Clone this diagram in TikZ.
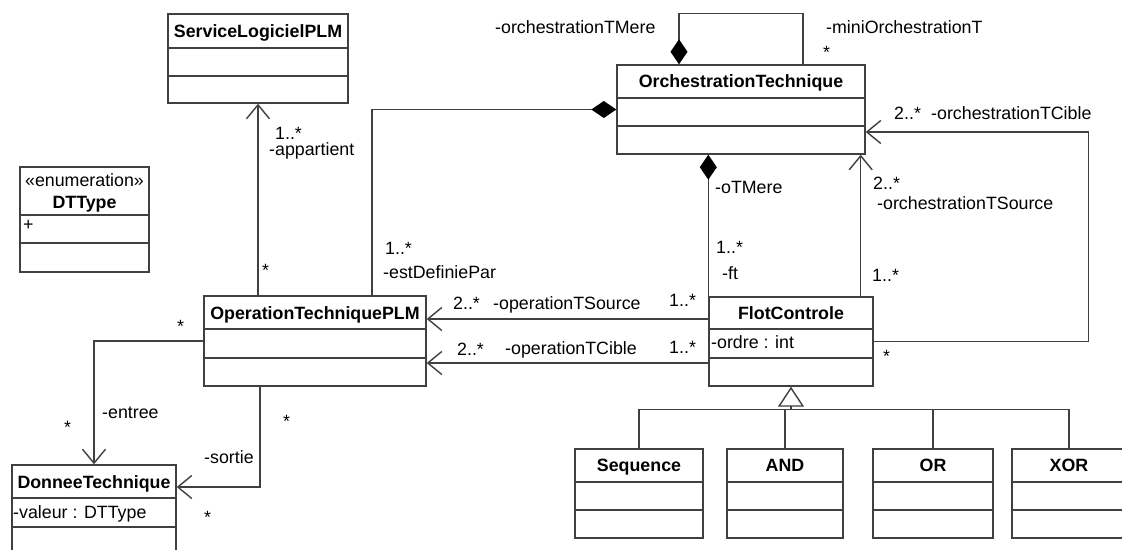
\documentclass[tikz,border=0pt]{standalone}
\usepackage{fontspec}
\setmainfont{Liberation Sans}
\usetikzlibrary{arrows.meta,fit}
\newcommand\umlcls[7]{%
  \node[box, fit={(#2,#3) (#4,#5)}] (#1) {};
  \draw[ln] (#2,#6) -- (#4,#6);
  \draw[ln] (#2,#7) -- (#4,#7);
}
\begin{document}
\begin{tikzpicture}[x=1pt,y=-1pt,
  every node/.style={font=\fontsize{17.8}{21}\selectfont},
  ln/.style={draw=black!75,line width=1.4pt},
  box/.style={draw=black!75,line width=1.4pt,inner sep=0pt},
  oarrow/.style={ln,-{Straight Barb[length=14pt,width=23pt]}},
  comp/.style={ln,{Diamond[length=25pt,width=17pt,color=black]}-},
  gen/.style={ln,-{Triangle[open,length=20pt,width=26pt]}},
  lbl/.style={anchor=base west,inner sep=0pt},
  ttl/.style={anchor=base,inner sep=0pt,font=\fontsize{17.8}{21}\selectfont\bfseries}]
\useasboundingbox (0,0) rectangle (1122,549);
\clip (0,0) rectangle (1122,549);
\fill[white] (0,0) rectangle (1122,549);

% classes
\umlcls{slp}{168}{14}{348}{103}{48}{76}
\umlcls{dtt}{20}{167}{149}{272}{215}{243}
\umlcls{ot}{617}{65}{865}{154}{98}{126}
\umlcls{otp}{204}{296}{426}{386}{329}{358}
\umlcls{fc}{709}{297}{873}{386}{329}{358}
\umlcls{dt}{12}{465}{176}{560}{498}{527}
\umlcls{seq}{575}{449}{703}{538}{482}{510}
\umlcls{and}{727}{449}{843}{538}{482}{510}
\umlcls{or}{873}{449}{993}{538}{482}{510}
\umlcls{xor}{1012}{449}{1126}{538}{482}{510}

% class texts
\node[ttl] (slpT) at (258,37) {ServiceLogicielPLM};
\node[anchor=base,inner sep=0pt] (dttS) at (84.5,186) {«enumeration»};
\node[ttl] (dttT) at (84.5,208) {DTType};
\node[lbl] (dttA) at (23,230) {+};
\node[ttl] (otT) at (741,87) {OrchestrationTechnique};
\node[ttl] (otpT) at (315,319) {OperationTechniquePLM};
\node[ttl] (fcT) at (791,319) {FlotControle};
\node[lbl] (fcA) at (711,348) {-ordre : int};
\node[ttl] (dtT) at (94,488) {DonneeTechnique};
\node[lbl] (dtA) at (13,518) {-valeur : DTType};
\node[ttl] (seqT) at (639,471) {Sequence};
\node[ttl] (andT) at (785,471) {AND};
\node[ttl] (orT) at (933,471) {OR};
\node[ttl] (xorT) at (1069,471) {XOR};

% connectors
\draw[oarrow] (otp.north -| slp.south) -- (slp.south);
\draw[comp] ([xshift=-62pt]ot.north) -- ++(0,-51) -| ([xshift=62pt]ot.north);
\draw[comp] (ot.west) -| ([xshift=57pt]otp.north);
\draw[comp] (ot.south -| fc.north west) -- (fc.north west);
\draw[oarrow] ([xshift=-13pt]fc.north east) -- ([xshift=-13pt]fc.north east |- ot.south);
\draw[oarrow] (fc.east) -- ++(215,0) |- ([yshift=-22.5pt]ot.east);
\draw[oarrow] ([yshift=22.5pt]fc.west) -- ([yshift=22.5pt]fc.west -| otp.east);
\draw[oarrow] ([yshift=-21.5pt]fc.west) -- ([yshift=-21.5pt]fc.west -| otp.east);
\draw[oarrow] (otp.west) -| (dt.north);
\draw[oarrow] ([xshift=-55pt]otp.south) |- ([yshift=25.5pt]dt.east);
\draw[gen] ([yshift=-23pt]fc.south) coordinate (hub) -- (fc.south);
\draw[ln] (seq.north) |- (hub) -| (xor.north);
\draw[ln] (and.north) -- (and.north |- hub);
\draw[ln] (or.north) -- (or.north |- hub);

% role and multiplicity labels
\node[lbl] (l1) at (275,139) {1..*};
\node[lbl] (l2) at (269,155) {-appartient};
\node[lbl] (l3) at (262,276) {*};
\node[lbl] (l4) at (495,33) {-orchestrationTMere};
\node[lbl] (l5) at (826,33) {-miniOrchestrationT};
\node[lbl] (l6) at (823,58) {*};
\node[lbl] (l7) at (385,254) {1..*};
\node[lbl] (l8) at (383,278) {-estDefiniePar};
\node[lbl] (l9) at (715,193) {-oTMere};
\node[lbl] (l10) at (716,253) {1..*};
\node[lbl] (l11) at (722,279) {-ft};
\node[lbl] (l12) at (873,189) {2..*};
\node[lbl] (l13) at (877,209) {-orchestrationTSource};
\node[lbl] (l14) at (872,281) {1..*};
\node[lbl] (l15) at (894,119) {2..*};
\node[lbl] (l16) at (931,119) {-orchestrationTCible};
\node[lbl] (l17) at (883,362) {*};
\node[lbl] (l18) at (453,309) {2..*};
\node[lbl] (l19) at (493,309) {-operationTSource};
\node[lbl] (l20) at (669,306) {1..*};
\node[lbl] (l21) at (457,355) {2..*};
\node[lbl] (l22) at (505,354) {-operationTCible};
\node[lbl] (l23) at (669,353) {1..*};
\node[lbl] (l24) at (177,332) {*};
\node[lbl] (l25) at (102,418) {-entree};
\node[lbl] (l26) at (64,433) {*};
\node[lbl] (l27) at (283,427) {*};
\node[lbl] (l28) at (204,463) {-sortie};
\node[lbl] (l29) at (204,523) {*};
\end{tikzpicture}
\end{document}
